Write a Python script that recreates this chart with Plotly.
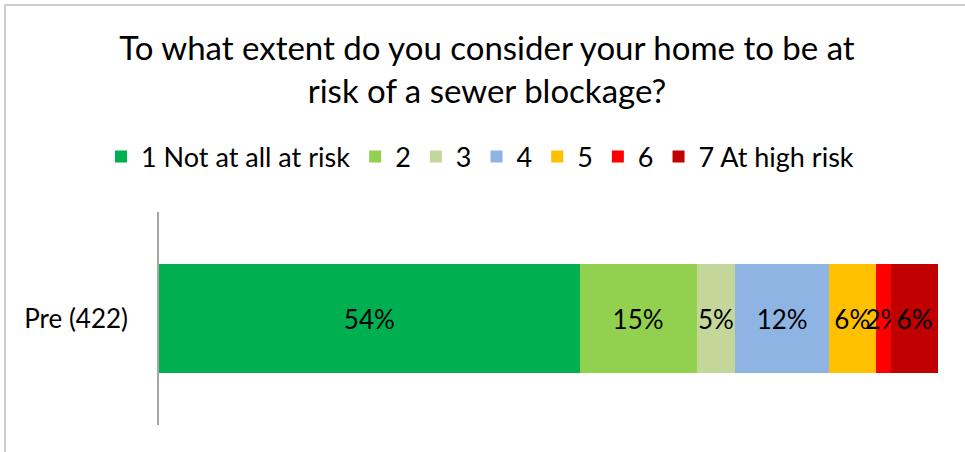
import plotly.graph_objects as go

categories = ["Pre (422)"]
series_names = ["1 Not at all at risk", "2", "3", "4", "5", "6", "7 At high risk"]
series_values = [54, 15, 5, 12, 6, 2, 6]
colors = ["#00B050", "#92D050", "#C4D79B", "#8EB4E3", "#FFC000", "#FF0000", "#C00000"]

FONT = "Lato, Calibri, Carlito, sans-serif"
W, H = 965, 452
L, R, T, B = 159, 27, 212, 27
PW, PH = W - L - R, H - T - B

fig = go.Figure()
for name, val, col in zip(series_names, series_values, colors):
    fig.add_trace(go.Bar(
        y=categories, x=[val], name=name, orientation="h",
        marker=dict(color=col, line=dict(width=0)),
        text=[f"{val}%"], textposition="inside", insidetextanchor="middle",
        textangle=0,
        textfont=dict(size=26, color="black", family=FONT),
        constraintext="none", cliponaxis=False,
    ))

fig.update_layout(
    barmode="stack",
    bargap=0.49,
    width=W, height=H,
    margin=dict(l=L, r=R, t=T, b=B),
    paper_bgcolor="white", plot_bgcolor="white",
    font=dict(family=FONT, color="black"),
    uniformtext=dict(minsize=26, mode="show"),
    title=dict(
        text="To what extent do you consider your home to be at<br>risk of a sewer blockage?",
        x=487 / W, xanchor="center", y=1 - 60 / H, yanchor="middle", yref="container",
        font=dict(size=33, family=FONT, color="black"),
    ),
    legend=dict(
        orientation="h", x=101 / W, xref="container", xanchor="left",
        y=1 - 157 / H, yref="container",
        yanchor="middle", font=dict(size=27, family=FONT),
        traceorder="normal", itemwidth=30,
    ),
    xaxis=dict(range=[0, 100], visible=False, fixedrange=True),
    yaxis=dict(showline=True, linecolor="#A6A6A6", linewidth=1.5, ticks="",
               tickfont=dict(size=26, family=FONT), ticklabelstandoff=24,
               showgrid=False, zeroline=False, fixedrange=True),
    shapes=[dict(type="rect", xref="paper", yref="paper",
                 x0=(5 - L) / PW, x1=(W + 20 - L) / PW,
                 y0=(H - T - (H + 20)) / PH, y1=(H - B - 5) / PH,
                 line=dict(color="#BFBFBF", width=1.5), fillcolor="rgba(0,0,0,0)", layer="below")],
)

fig.write_html("out.html", config={"displayModeBar": False},
               post_script="document.body.style.margin='0';document.body.style.overflow='hidden';")
